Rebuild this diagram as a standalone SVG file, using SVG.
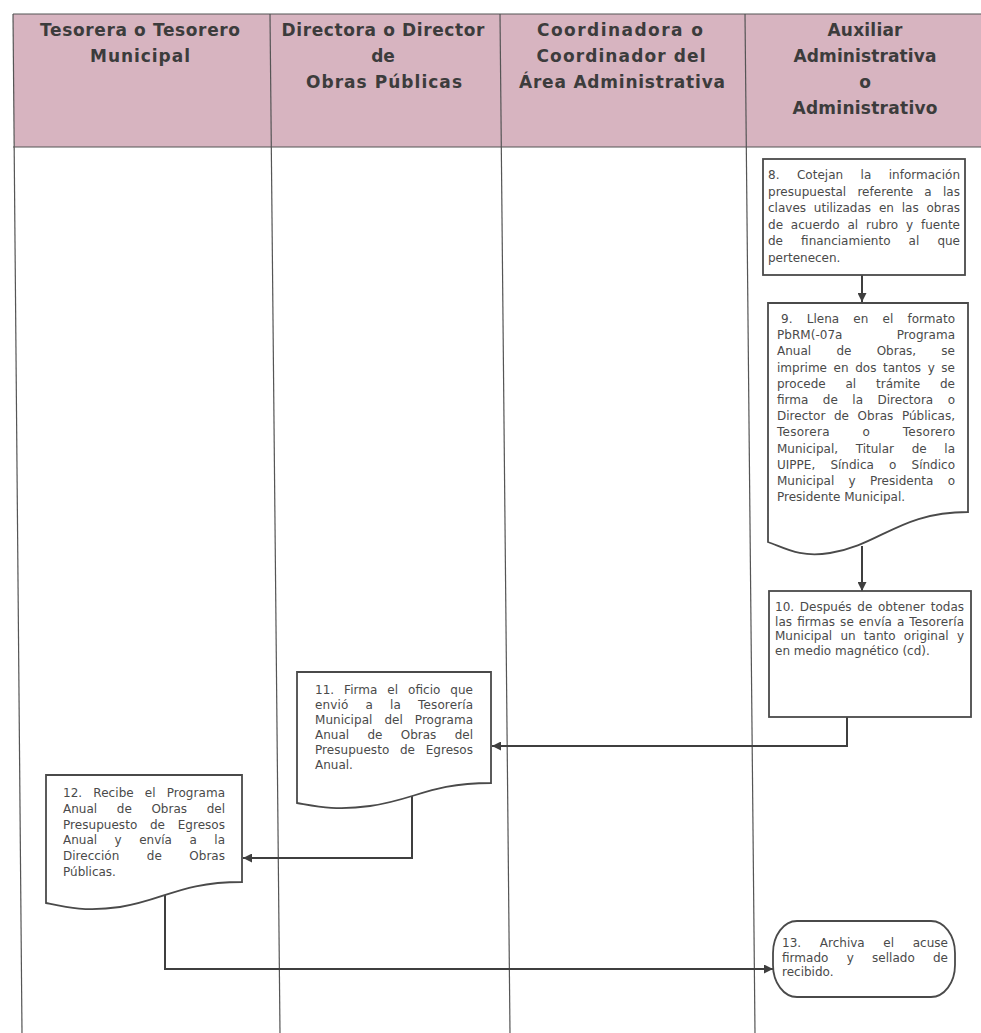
<svg xmlns="http://www.w3.org/2000/svg" width="981" height="1033" viewBox="0 0 981 1033">
<defs>
<style>
.lane{stroke:#555;stroke-width:1.2;fill:none}
.hdr{font-family:"DejaVu Sans","Liberation Sans",sans-serif;font-weight:bold;font-size:17px;fill:#3c3c3c;text-anchor:middle}
.box{fill:#fff;stroke:#4a4a4a;stroke-width:1.8}
.t{font-family:"DejaVu Sans","Liberation Sans",sans-serif;font-size:12px;fill:#4a4a4a}
.con{fill:none;stroke:#3f3f3f;stroke-width:2}
</style>
<marker id="ah" viewBox="0 0 10 10" refX="10" refY="5" markerWidth="9" markerHeight="9" markerUnits="userSpaceOnUse" orient="auto">
<path d="M0,0 L10,5 L0,10 Z" fill="#3f3f3f"/>
</marker>
</defs>
<rect width="981" height="1033" fill="#fff"/>

<g id="header">
<polygon points="13,14 981,14 981,147 14.3,147" fill="#d7b4c0"/>
<line class="lane" x1="13" y1="14" x2="981" y2="14"/>
<line class="lane" x1="13" y1="147" x2="981" y2="147"/>
<text class="hdr" x="140" y="36" textLength="200">Tesorera o Tesorero</text>
<text class="hdr" x="140" y="62" textLength="100">Municipal</text>
<text class="hdr" x="383" y="36" textLength="203">Directora o Director</text>
<text class="hdr" x="383" y="62">de</text>
<text class="hdr" x="384" y="88" textLength="156">Obras Públicas</text>
<text class="hdr" x="620" y="36" textLength="166">Coordinadora o</text>
<text class="hdr" x="621" y="62" textLength="169">Coordinador del</text>
<text class="hdr" x="622" y="88" textLength="206">Área Administrativa</text>
<text class="hdr" x="865" y="36" textLength="75">Auxiliar</text>
<text class="hdr" x="865" y="62" textLength="143">Administrativa</text>
<text class="hdr" x="865" y="88">o</text>
<text class="hdr" x="865" y="114" textLength="145">Administrativo</text>
</g>

<g id="lanes">
<line class="lane" x1="13" y1="14" x2="22" y2="1033"/>
<line class="lane" x1="270" y1="14" x2="280" y2="1033"/>
<line class="lane" x1="500" y1="14" x2="510" y2="1033"/>
<line class="lane" x1="745" y1="14" x2="755" y2="1033"/>
</g>

<g id="connectors">
<path class="con" d="M862,275 V302" marker-end="url(#ah)"/>
<path class="con" d="M862,546 V591" marker-end="url(#ah)"/>
<path class="con" d="M847,717 V746 H492" marker-end="url(#ah)"/>
<path class="con" d="M412,788 V858 H243" marker-end="url(#ah)"/>
<path class="con" d="M165,890 V969 H773" marker-end="url(#ah)"/>
</g>

<g id="node8">
<rect class="box" x="763" y="159" width="202" height="116"/>
<text class="t" x="768" y="179" word-spacing="13.6" textLength="192">8. Cotejan la información</text>
<text class="t" x="768" y="195.5" word-spacing="7.4" textLength="192">presupuestal referente a las</text>
<text class="t" x="768" y="212" word-spacing="4" textLength="192">claves utilizadas en las obras</text>
<text class="t" x="768" y="228.5" word-spacing="4" textLength="192">de acuerdo al rubro y fuente</text>
<text class="t" x="768" y="245" word-spacing="14.3" textLength="192">de financiamiento al que</text>
<text class="t" x="768" y="261.5">pertenecen.</text>
</g>

<g id="node9">
<path class="box" d="M768,303 H968 V512 C900,512 880,545 830,553 C800,558 785,548 768,542 Z"/>
<text class="t" x="781" y="323" word-spacing="10.4" textLength="174">9. Llena en el formato</text>
<text class="t" x="777" y="339.2" word-spacing="50.5" textLength="178">PbRM(-07a Programa</text>
<text class="t" x="777" y="355.4" word-spacing="21.5" textLength="178">Anual de Obras, se</text>
<text class="t" x="777" y="371.6" word-spacing="2.8" textLength="178">imprime en dos tantos y se</text>
<text class="t" x="777" y="387.8" word-spacing="16" textLength="178">procede al trámite de</text>
<text class="t" x="777" y="404" word-spacing="10.6" textLength="178">firma de la Directora o</text>
<text class="t" x="777" y="420.2" word-spacing="4.8" textLength="178">Director de Obras Públicas,</text>
<text class="t" x="777" y="436.4" word-spacing="28.6" textLength="178">Tesorera o Tesorero</text>
<text class="t" x="777" y="452.6" word-spacing="13.8" textLength="178">Municipal, Titular de la</text>
<text class="t" x="777" y="468.8" word-spacing="11.4" textLength="178">UIPPE, Síndica o Síndico</text>
<text class="t" x="777" y="485" word-spacing="10.4" textLength="178">Municipal y Presidenta o</text>
<text class="t" x="777" y="501.2">Presidente Municipal.</text>
</g>

<g id="node10">
<rect class="box" x="769" y="591" width="202" height="126"/>
<text class="t" x="775" y="611" word-spacing="1.9" textLength="189">10. Después de obtener todas</text>
<text class="t" x="775" y="625.5" word-spacing="1" textLength="189">las firmas se envía a Tesorería</text>
<text class="t" x="775" y="640" word-spacing="4.4" textLength="189">Municipal un tanto original y</text>
<text class="t" x="775" y="654.5">en medio magnético (cd).</text>
</g>

<g id="node11">
<path class="box" d="M297,672 H491 V783 C430,783 415,800 370,806 C335,811 315,806 297,803 Z"/>
<text class="t" x="315" y="694" word-spacing="6" textLength="158">11. Firma el oficio que</text>
<text class="t" x="315" y="709" word-spacing="13.2" textLength="158">envió a la Tesorería</text>
<text class="t" x="315" y="724" word-spacing="8.2" textLength="158">Municipal del Programa</text>
<text class="t" x="315" y="739" word-spacing="14.5" textLength="158">Anual de Obras del</text>
<text class="t" x="315" y="754" word-spacing="6.8" textLength="158">Presupuesto de Egresos</text>
<text class="t" x="315" y="769">Anual.</text>
</g>

<g id="node12">
<path class="box" d="M46,775 H242 V882 C180,882 165,900 120,907 C85,912 65,907 46,903 Z"/>
<text class="t" x="63" y="797" word-spacing="7.2" textLength="162">12. Recibe el Programa</text>
<text class="t" x="63" y="812.8" word-spacing="15.8" textLength="162">Anual de Obras del</text>
<text class="t" x="63" y="828.6" word-spacing="8.8" textLength="162">Presupuesto de Egresos</text>
<text class="t" x="63" y="844.4" word-spacing="13.7" textLength="162">Anual y envía a la</text>
<text class="t" x="63" y="860.2" word-spacing="23.7" textLength="162">Dirección de Obras</text>
<text class="t" x="63" y="876">Públicas.</text>
</g>

<g id="node13">
<rect class="box" x="773" y="921" width="182" height="76" rx="24" ry="32"/>
<text class="t" x="782" y="947" word-spacing="14.8" textLength="166">13. Archiva el acuse</text>
<text class="t" x="782" y="961.5" word-spacing="14.4" textLength="166">firmado y sellado de</text>
<text class="t" x="782" y="976">recibido.</text>
</g>
</svg>
